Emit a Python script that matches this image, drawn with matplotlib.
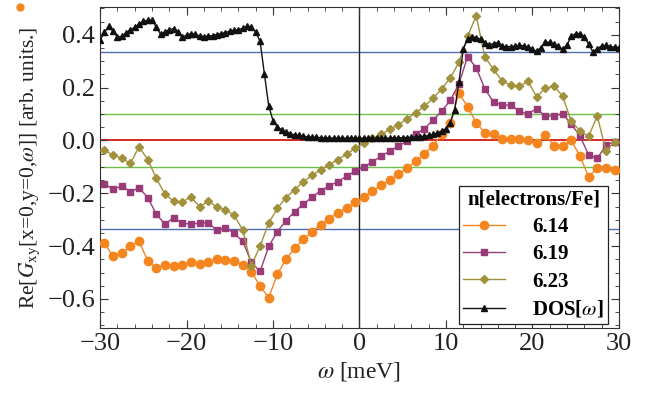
import numpy as np
import matplotlib
matplotlib.use("Agg")
import matplotlib.pyplot as plt
from matplotlib.ticker import MultipleLocator

plt.rcParams['font.family'] = ['Liberation Serif', 'DejaVu Serif']
plt.rcParams['mathtext.fontset'] = 'stix'

# series sampled at half-integer frequencies
w_half = np.arange(-29.5, 30.0, 1.0)

n614 = [-0.390, -0.439, -0.425, -0.401, -0.382, -0.455, -0.483, -0.472, -0.475, -0.473,
        -0.459, -0.467, -0.460, -0.450, -0.454, -0.455, -0.473, -0.497, -0.552, -0.596,
        -0.506, -0.450, -0.408, -0.374, -0.345, -0.320, -0.296, -0.274, -0.254, -0.234,
        -0.214, -0.191, -0.170, -0.150, -0.128, -0.106, -0.078, -0.052, -0.019, 0.023,
        0.067, 0.180, 0.128, 0.067, 0.029, 0.025, 0.004, 0.006, 0.007, 0.000,
        -0.011, 0.019, -0.020, -0.020, 0.000, -0.059, -0.138, -0.103, -0.103, -0.112]

n619 = [-0.164, -0.185, -0.172, -0.194, -0.179, -0.216, -0.279, -0.317, -0.292, -0.313,
        -0.317, -0.313, -0.311, -0.340, -0.330, -0.352, -0.382, -0.462, -0.496, -0.401,
        -0.345, -0.304, -0.269, -0.242, -0.214, -0.191, -0.172, -0.156, -0.135, -0.116,
        -0.101, -0.080, -0.060, -0.040, -0.021, -0.003, 0.023, 0.045, 0.077, 0.111,
        0.152, 0.214, 0.317, 0.276, 0.195, 0.146, 0.134, 0.134, 0.110, 0.101,
        0.121, 0.091, 0.094, 0.101, 0.062, 0.017, -0.054, -0.068, -0.018, -0.005]

n623 = [-0.037, -0.055, -0.067, -0.087, -0.024, -0.072, -0.143, -0.204, -0.229, -0.233,
        -0.214, -0.250, -0.231, -0.250, -0.264, -0.282, -0.340, -0.474, -0.399, -0.313,
        -0.257, -0.216, -0.186, -0.157, -0.132, -0.112, -0.091, -0.072, -0.052, -0.030,
        -0.010, 0.008, 0.023, 0.042, 0.060, 0.082, 0.105, 0.129, 0.160, 0.195,
        0.237, 0.296, 0.394, 0.473, 0.316, 0.270, 0.225, 0.210, 0.206, 0.224,
        0.165, 0.199, 0.205, 0.168, 0.072, 0.037, 0.016, 0.093, -0.038, -0.007]

# DOS sampled every 0.5 meV
w_dos = np.arange(-30.0, 30.25, 0.5)
dos = [0.380, 0.410, 0.432, 0.413, 0.393, 0.394, 0.408, 0.420, 0.428, 0.440,
       0.452, 0.455, 0.455, 0.430, 0.402, 0.412, 0.420, 0.424, 0.410, 0.393,
       0.398, 0.405, 0.402, 0.396, 0.393, 0.396, 0.397, 0.401, 0.405, 0.409,
       0.414, 0.418, 0.420, 0.425, 0.433, 0.430, 0.410, 0.376, 0.252, 0.131,
       0.075, 0.053, 0.040, 0.031, 0.026, 0.021, 0.019, 0.016, 0.014, 0.013,
       0.012, 0.011, 0.010, 0.010, 0.009, 0.009, 0.009, 0.009, 0.009, 0.009,
       0.009,
       0.009, 0.009, 0.009, 0.009, 0.009, 0.009, 0.009, 0.010, 0.010, 0.011,
       0.011, 0.012, 0.013, 0.014, 0.016, 0.019, 0.023, 0.028, 0.035, 0.045,
       0.068, 0.115, 0.220, 0.345, 0.385, 0.392, 0.390, 0.384, 0.370, 0.363,
       0.367, 0.371, 0.358, 0.355, 0.356, 0.357, 0.360, 0.359, 0.354, 0.346,
       0.338, 0.352, 0.372, 0.372, 0.364, 0.358, 0.345, 0.362, 0.395, 0.405,
       0.405, 0.392, 0.365, 0.335, 0.348, 0.358, 0.360, 0.355, 0.354, 0.352]

ref_lines = [(1/3, '#4f6db5'), (-1/3, '#4f6db5'), (0.1, '#6cbf4a'), (-0.1, '#6cbf4a')]

fig = plt.figure(figsize=(6.46, 3.98), dpi=100)
ax = fig.add_axes([0.155, 0.176, 0.803, 0.806])

for yv, c in ref_lines:
    ax.axhline(yv, color=c, lw=1.0, zorder=1)
ax.axhline(0, color='#d42a22', lw=1.4, zorder=1)
ax.axvline(0, color='#222222', lw=1.0, zorder=1)

ax.plot(w_half, n614, '-o', color='#f5861f', ms=6, lw=1.0, label='6.14', zorder=3)
ax.plot(w_half, n619, '-s', color='#983b78', ms=5, lw=1.0, label='6.19', zorder=3)
ax.plot(w_half, n623, '-D', color='#a2913c', ms=4, lw=1.0, label='6.23', zorder=3)
ax.plot(w_dos, dos, '-^', color='#111111', ms=4.5, lw=1.0, label=r'DOS[$\omega$]', zorder=4)

ax.set_xlim(-30, 30)
ax.set_ylim(-0.71, 0.505)
ax.xaxis.set_minor_locator(MultipleLocator(2))
ax.yaxis.set_minor_locator(MultipleLocator(0.05))
ax.set_yticks([-0.6, -0.4, -0.2, 0.0, 0.2, 0.4])
ax.set_yticklabels(['\u22120.6', '\u22120.4', '\u22120.2', '0.0', '0.2', '0.4'])
ax.set_xticks([-30, -20, -10, 0, 10, 20, 30])
ax.set_xticklabels(['\u221230', '\u221220', '\u221210', '0', '10', '20', '30'])
ax.tick_params(which='both', direction='in', top=True, right=True, colors='#333333',
               labelcolor='#222222', labelsize=19)
ax.tick_params(which='major', length=6)
ax.tick_params(which='minor', length=3)
for s in ax.spines.values():
    s.set_color('#333333')

ax.set_xlabel(r'$\omega$ [meV]', fontsize=17, color='#222222')
ax.set_ylabel(r'Re[$G_{\mathrm{xy}}$[x=0,y=0,$\omega$]] [arb. units.]', fontsize=15.5,
              color='#222222', labelpad=4)

leg = ax.legend(title='n[electrons/Fe]', loc='lower right', bbox_to_anchor=(0.979, 0.012),
                borderaxespad=0, fancybox=False, framealpha=1, edgecolor='#222222',
                handlelength=2.0, prop={'weight': 'bold', 'size': 15},
                title_fontproperties={'weight': 'bold', 'size': 15},
                borderpad=0.2, labelspacing=0.35, handletextpad=1.3)
leg.get_frame().set_linewidth(0.9)
leg.set_zorder(6)

# small orange dot at the top left corner of the original figure
fig.add_artist(plt.Line2D([0.031], [0.982], marker='o', color='#f5861f', ms=5,
                          transform=fig.transFigure))

fig.savefig('out.png', dpi=100)
